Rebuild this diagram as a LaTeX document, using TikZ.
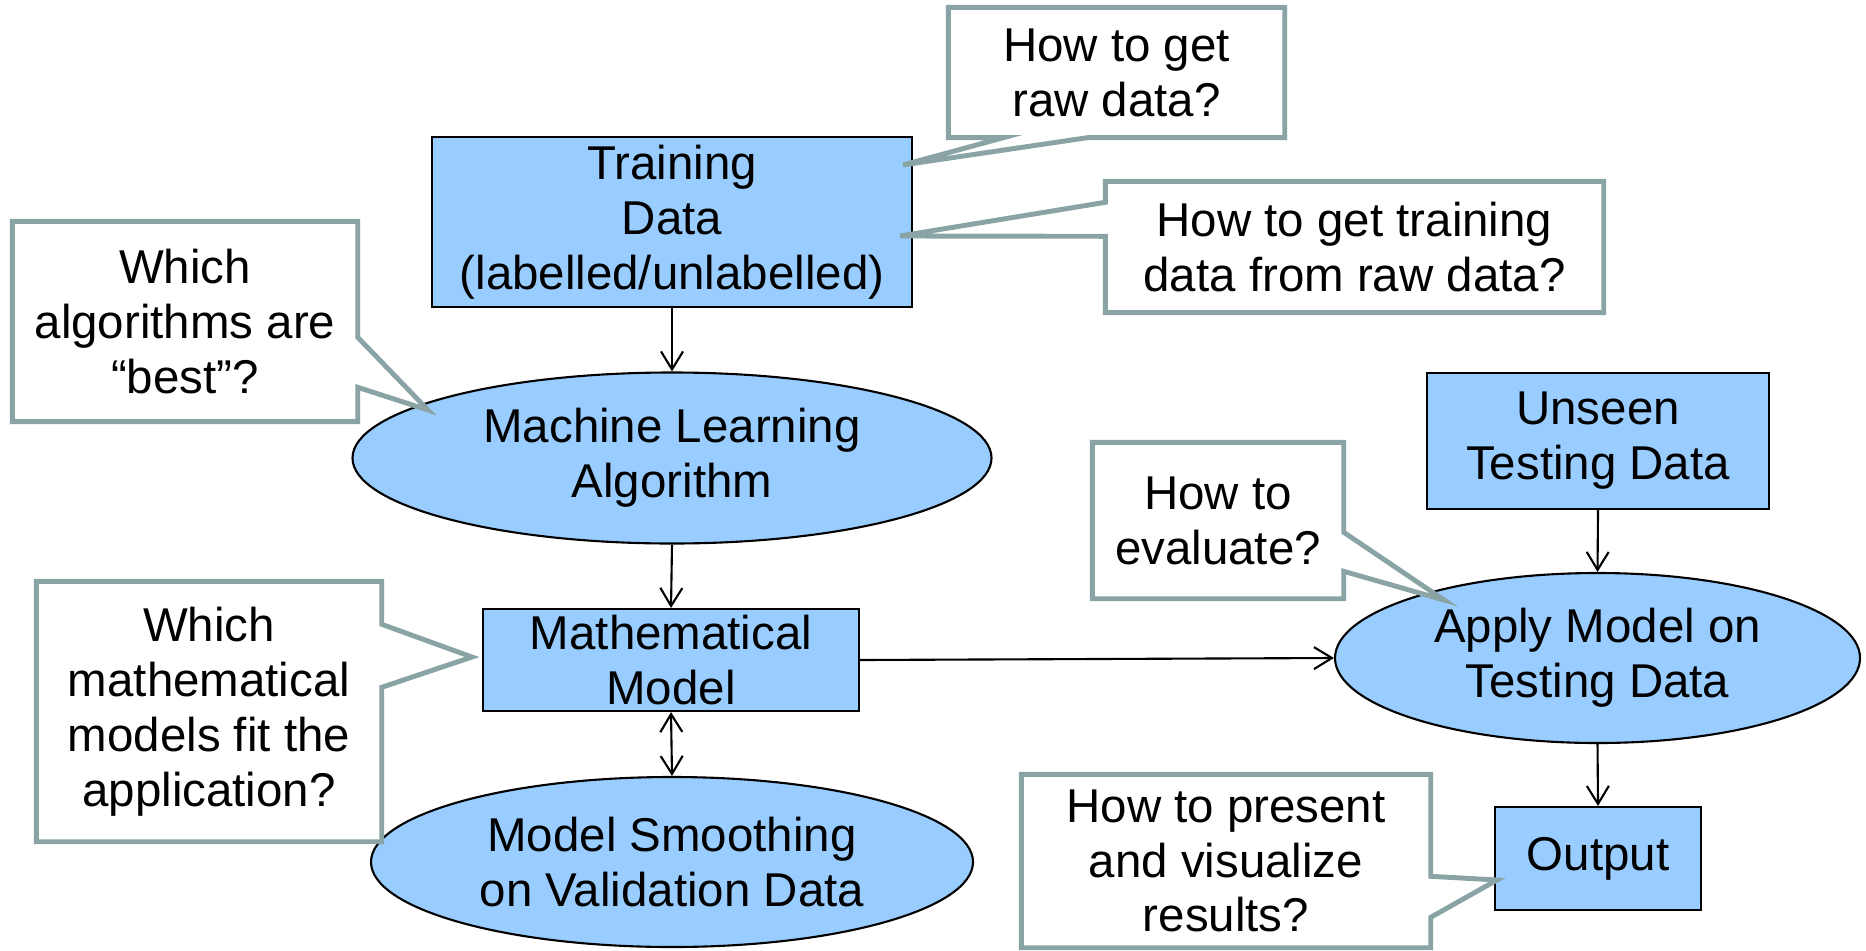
\documentclass[tikz,border=0pt]{standalone}
\usepackage{fontspec}
\setmainfont{Liberation Sans}
\usetikzlibrary{shapes.geometric,arrows.meta,calc}
\definecolor{cBlue}{RGB}{153,204,255}
\definecolor{cCall}{RGB}{138,163,165}
\tikzset{
  basebox/.style={rectangle,draw=black,line width=0.6pt,fill=cBlue,inner sep=0pt,
                  align=center,font=\fontsize{13.5}{15.6}\selectfont},
  bluenode/.style={basebox},
  ellnode/.style={basebox,ellipse},
  callnode/.style={rectangle,fill=white,inner sep=0pt,align=center,
                   font=\fontsize{13.5}{15.6}\selectfont},
  callline/.style={draw=cCall,line width=1.4pt,line join=miter},
  arr/.style={-{Straight Barb[length=1.8mm,width=2.2mm]},line width=0.6pt},
  dblarr/.style={{Straight Barb[length=1.8mm,width=2.2mm]}-{Straight Barb[length=1.8mm,width=2.2mm]},
                 line width=0.6pt}
}

\begin{document}
\begin{tikzpicture}
  \useasboundingbox (0,0) rectangle (18.66,-9.50);

  % Main flow, left column
  \node[bluenode,minimum width=4.80cm,minimum height=1.70cm] (train) at (6.72,-2.22)
      {Training\\Data\\(labelled/unlabelled)};
  \node[ellnode,minimum width=6.39cm,minimum height=1.71cm] (mla) at (6.72,-4.58)
      {Machine Learning\\Algorithm};
  \node[bluenode,minimum width=3.76cm,minimum height=1.02cm] (math) at (6.71,-6.60)
      {Mathematical\\Model};
  \node[ellnode,minimum width=6.02cm,minimum height=1.70cm] (smooth) at (6.72,-8.62)
      {Model Smoothing\\on Validation Data};

  % Testing side
  \node[bluenode,minimum width=3.42cm,minimum height=1.36cm] (unseen) at (15.98,-4.41)
      {Unseen\\Testing Data};
  \node[ellnode,minimum width=5.25cm,minimum height=1.70cm] (apply) at (15.975,-6.58)
      {Apply Model on\\Testing Data};
  \node[bluenode,minimum width=2.06cm,minimum height=1.03cm] (output) at (15.98,-8.585)
      {Output};

  \draw[arr] (train.south) -- (mla.north);
  \draw[arr] (mla.south) -- (math.north);
  \draw[dblarr] (math.south) -- (smooth.north);
  \draw[arr] (math.east) -- (apply.west);
  \draw[arr] (unseen.south) -- (apply.north);
  \draw[arr] (apply.south) -- (output.north);

  % Question callouts
  \node[callnode,minimum width=3.35cm,minimum height=1.29cm] (qraw) at (11.165,-0.725)
      {How to get\\raw data?};
  \coordinate (rawtip) at ($(train.north east)+(-0.10,-0.29)$);
  \fill[white] ($(qraw.south west)+(0.55,0)$) -- (rawtip) -- ($(qraw.south west)+(1.39,0)$) -- cycle;
  \draw[callline] (qraw.south west) -- (qraw.north west) -- (qraw.north east) -- (qraw.south east)
      -- ($(qraw.south west)+(1.39,0)$) -- (rawtip) -- ($(qraw.south west)+(0.55,0)$) -- cycle;

  \node[callnode,minimum width=4.97cm,minimum height=1.30cm] (qtrain) at (13.545,-2.47)
      {How to get training\\data from raw data?};
  \coordinate (traintip) at ($(train.east)+(-0.13,-0.14)$);
  \fill[white] ($(qtrain.north west)+(0,-0.21)$) -- (traintip) -- ($(qtrain.north west)+(0,-0.55)$) -- cycle;
  \draw[callline] (qtrain.north west) -- (qtrain.north east) -- (qtrain.south east) -- (qtrain.south west)
      -- ($(qtrain.north west)+(0,-0.55)$) -- (traintip) -- ($(qtrain.north west)+(0,-0.21)$) -- cycle;

  \node[callnode,minimum width=3.44cm,minimum height=1.99cm] (qalgo) at (1.85,-3.215)
      {Which\\algorithms are\\``best''?};
  \coordinate (algotip) at ($(mla.center)+(-2.44,0.48)$);
  \fill[white] ($(qalgo.north east)+(0,-1.16)$) -- (algotip) -- ($(qalgo.north east)+(0,-1.66)$) -- cycle;
  \draw[callline] (qalgo.north west) -- (qalgo.north east) -- ($(qalgo.north east)+(0,-1.16)$)
      -- (algotip) -- ($(qalgo.north east)+(0,-1.66)$) -- (qalgo.south east) -- (qalgo.south west) -- cycle;

  \node[callnode,minimum width=3.44cm,minimum height=2.59cm] (qmodel) at (2.09,-7.115)
      {Which\\mathematical\\models fit the\\application?};
  \coordinate (modeltip) at ($(math.west)+(-0.10,0.03)$);
  \fill[white] ($(qmodel.north east)+(0,-0.43)$) -- (modeltip) -- ($(qmodel.north east)+(0,-1.06)$) -- cycle;
  \draw[callline] (qmodel.north west) -- (qmodel.north east) -- ($(qmodel.north east)+(0,-0.43)$)
      -- (modeltip) -- ($(qmodel.north east)+(0,-1.06)$) -- (qmodel.south east) -- (qmodel.south west) -- cycle;

  \node[callnode,minimum width=2.50cm,minimum height=1.55cm] (qeval) at (12.18,-5.205)
      {How to\\evaluate?};
  \coordinate (evaltip) at ($(apply.center)+(-1.535,0.58)$);
  \fill[white] ($(qeval.north east)+(0,-0.90)$) -- (evaltip) -- ($(qeval.north east)+(0,-1.29)$) -- cycle;
  \draw[callline] (qeval.north west) -- (qeval.north east) -- ($(qeval.north east)+(0,-0.90)$)
      -- (evaltip) -- ($(qeval.north east)+(0,-1.29)$) -- (qeval.south east) -- (qeval.south west) -- cycle;

  \node[callnode,minimum width=4.08cm,minimum height=1.72cm] (qpres) at (12.26,-8.61)
      {How to present\\and visualize\\results?};
  \coordinate (prestip) at ($(output.west)+(0.03,-0.215)$);
  \fill[white] ($(qpres.north east)+(0,-1.02)$) -- (prestip) -- ($(qpres.north east)+(0,-1.43)$) -- cycle;
  \draw[callline] (qpres.north west) -- (qpres.north east) -- ($(qpres.north east)+(0,-1.02)$)
      -- (prestip) -- ($(qpres.north east)+(0,-1.43)$) -- (qpres.south east) -- (qpres.south west) -- cycle;

\end{tikzpicture}
\end{document}
